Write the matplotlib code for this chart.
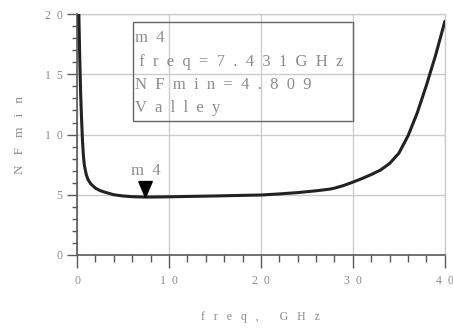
import matplotlib
matplotlib.use("Agg")
import matplotlib.pyplot as plt
from matplotlib.patches import Rectangle
from matplotlib.ticker import MultipleLocator

# NFmin vs frequency
freq = [0.2, 0.3, 0.4, 0.5, 0.6, 0.7, 0.8, 1.0, 1.2, 1.5, 2.0, 2.5, 3.0, 4.0,
        5.0, 6.0, 7.431, 9.0, 10.0, 12.0, 15.0, 18.0, 20.0, 22.0, 24.0, 26.0,
        27.5, 28.0, 29.0, 30.0, 31.0, 32.0, 33.0, 34.0, 35.0, 36.0, 37.0,
        38.0, 39.0, 40.0]
nfmin = [20.0, 16.3, 13.3, 11.2, 9.4, 8.2, 7.45, 6.7, 6.25, 5.9, 5.55, 5.35,
         5.22, 5.0, 4.9, 4.84, 4.809, 4.82, 4.83, 4.86, 4.9, 4.95, 4.98,
         5.07, 5.18, 5.33, 5.47, 5.55, 5.77, 6.05, 6.35, 6.68, 7.05, 7.6,
         8.45, 9.9, 11.8, 14.1, 16.6, 19.4]

marker_name = "m4"
marker_freq = 7.431
marker_nf = 4.809

xticks = [0, 10, 20, 30, 40]
yticks = [0, 5, 10, 15, 20]


def spaced(s, gap="  "):
    return gap.join(s)


txt_gray = "#8c8c8c"
axis_gray = "#5a5a5a"
grid_gray = "#c9ccd2"
serif = "Liberation Serif"

fig = plt.figure(figsize=(4.53, 3.28), dpi=100)
ax = fig.add_axes([0.170, 0.2226, 0.812, 0.7344])

ax.plot(freq, nfmin, color="#222222", lw=2.2, solid_capstyle="round", zorder=3)

ax.set_xlim(0, 40)
ax.set_ylim(0, 20)
ax.set_xticks(xticks)
ax.set_yticks(yticks)
ax.set_xticklabels([spaced(str(t)) for t in xticks], family=serif,
                   fontsize=8.5, color=txt_gray)
ax.set_yticklabels([spaced(str(t)) for t in yticks], family=serif,
                   fontsize=8.5, color=txt_gray)
ax.xaxis.set_minor_locator(MultipleLocator(2))
ax.yaxis.set_minor_locator(MultipleLocator(1))
ax.tick_params(axis="x", which="major", length=9.5, width=1, color=axis_gray,
               pad=5)
ax.tick_params(axis="x", which="minor", length=5, width=1, color=axis_gray)
ax.tick_params(axis="y", which="major", length=7.5, width=1, color=axis_gray,
               pad=3)
ax.tick_params(axis="y", which="minor", length=3.8, width=1, color=axis_gray)

ax.grid(True, which="major", color=grid_gray, lw=1)
for side in ["left", "bottom"]:
    ax.spines[side].set_color(axis_gray)
    ax.spines[side].set_linewidth(1.2)
for side in ["top", "right"]:
    ax.spines[side].set_color(grid_gray)
    ax.spines[side].set_linewidth(1)

ax.set_xlabel(spaced("freq,", "   ") + "       " + spaced("GHz", "   "),
              family=serif, fontsize=8.5, color=txt_gray, labelpad=17)
ax.set_ylabel(spaced("NFmin", "   "), family=serif, fontsize=9.5,
              color=txt_gray, labelpad=13)

# marker: downward triangle with its tip on the curve
tri = [(-0.42, 1.0), (0.42, 1.0), (0.0, 0.0), (-0.42, 1.0)]
ax.plot([marker_freq], [marker_nf], marker=tri, markersize=23, color="black",
        zorder=4, clip_on=False)
ax.annotate(spaced(marker_name), (marker_freq, marker_nf),
            xytext=(0, 18.5), textcoords="offset points", ha="center",
            va="center", family=serif, fontsize=12, color=txt_gray)

# readout box
ax.add_patch(Rectangle((0.152, 0.556), 0.598, 0.411, transform=ax.transAxes,
                       fill=False, ec="#666666", lw=1, zorder=5))
lines = [spaced(marker_name),
         " " + spaced("freq=%.3fGHz" % marker_freq),
         spaced("NFmin=%.3f" % marker_nf),
         spaced("Valley")]
line_y = [0.900, 0.801, 0.705, 0.610]
for s, yy in zip(lines, line_y):
    ax.text(0.157, yy, s, transform=ax.transAxes, ha="left",
            va="center", family=serif, fontsize=12, color=txt_gray)

fig.savefig("out.png", dpi=100)
